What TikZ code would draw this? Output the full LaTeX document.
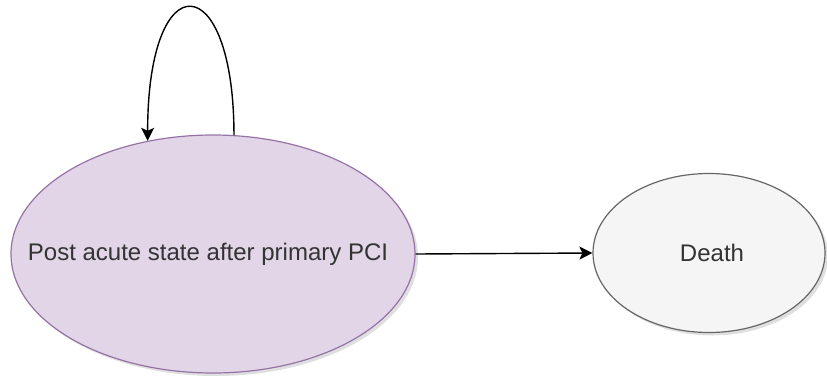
\documentclass[tikz,border=0pt]{standalone}
\usepackage{fontspec}
\setmainfont{Liberation Sans}
\usepackage{xcolor}
\usepackage{tikz}
\usetikzlibrary{shapes.geometric, arrows.meta, shadows}

\definecolor{aliveFill}{HTML}{E1D5E7}
\definecolor{aliveLine}{HTML}{9673A6}
\definecolor{deadFill}{HTML}{F5F5F5}
\definecolor{deadLine}{HTML}{666666}
\definecolor{labelText}{HTML}{333333}

\begin{document}
\begin{tikzpicture}[
    x=1pt, y=-1pt,
    statenode/.style={ellipse, line width=1.2pt, inner sep=0pt, drop shadow={opacity=0.25, shadow xshift=3pt, shadow yshift=-3pt}},
    statetext/.style={text=labelText, font=\fontsize{24}{28}\selectfont},
    alive/.style={statenode, draw=aliveLine, fill=aliveFill, minimum width=404pt, minimum height=238pt,
        label={[statetext, xshift=-5pt]center:#1}},
    dead/.style={statenode, draw=deadLine, fill=deadFill, minimum width=232pt, minimum height=159pt,
        label={[statetext, xshift=3pt]center:#1}},
    arrow/.style={-{Stealth[length=13pt, width=13pt, inset=3pt]}, line width=1.4pt, draw=black}
]
\useasboundingbox (0,0) rectangle (827,381);

\node[alive={Post acute state after primary PCI}] (post) at (213,254) {};
\node[dead=Death] (death) at (709,253) {};

% staying in the post acute state
\draw[arrow] (post.80) .. controls +(0,-168) and +(0,-180) .. (post.120);
\draw[arrow] (post.east) -- (death.west);
\end{tikzpicture}
\end{document}
